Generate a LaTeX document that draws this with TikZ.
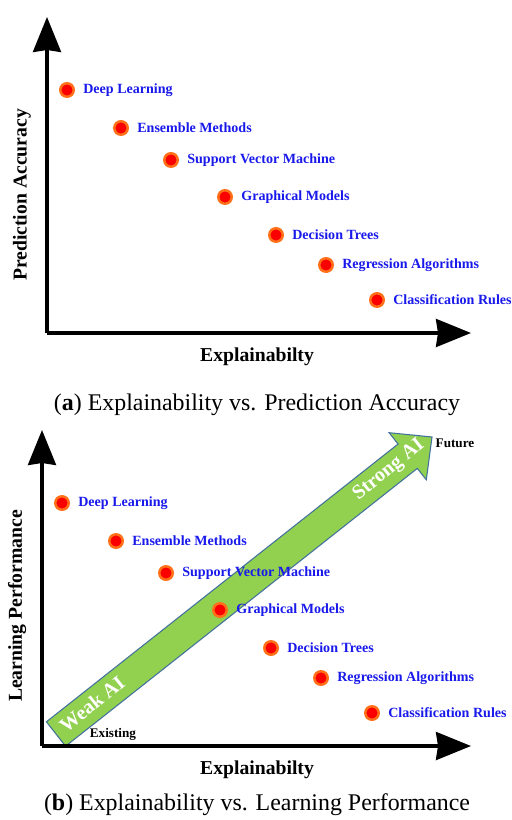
\documentclass[tikz,border=0pt]{standalone}
\usepackage{fontspec}
\setmainfont{Liberation Serif}
\usetikzlibrary{arrows.meta}
\definecolor{methodblue}{RGB}{25,25,235}
\definecolor{dotorange}{RGB}{255,112,24}
\definecolor{dotred}{RGB}{250,0,0}
\definecolor{aigreen}{RGB}{146,208,80}
\definecolor{aiborder}{RGB}{65,113,156}

\begin{document}
\begin{tikzpicture}[x=0.02cm, y=-0.02cm]
	\tikzstyle{arrow}=[draw, line width=1.8pt, -{Stealth[length=0.7cm, width=0.56cm, inset=0.04cm]}]
	\tikzstyle{dot}=[circle, draw=dotorange, line width=1.4pt, fill=dotred, inner sep=0pt, minimum size=0.27cm]
	\tikzstyle{method}=[anchor=west, text=methodblue, font=\bfseries\fontsize{8}{9.6}\selectfont, inner sep=0pt]
	\tikzstyle{axislabel}=[font=\bfseries\fontsize{11.2}{13}\selectfont]
	\tikzstyle{caption}=[font=\fontsize{13.6}{16}\selectfont]
	\tikzstyle{ai}=[text=white, font=\bfseries\fontsize{11.5}{13}\selectfont, rotate=39]
	\newcommand\Xshift{-5}
	\newcommand\Yshift{413}

	\useasboundingbox (0,0) rectangle (511,820);

	% green AI arrow
	\draw [fill=aigreen, draw=aiborder, line width=0.6pt] (46.4,721.8) -- (398.1,444.0) -- (389.1,432.7) -- (432,437) -- (426.3,479.7) -- (417.3,468.4) -- (65.6,746.2) -- cycle;
	\node [ai] at (92,704) (WAI) {Weak AI};
	\node [ai] at (389,470) (SAI) {Strong AI};
	\node [font=\bfseries\fontsize{7.5}{9}\selectfont] at (455,443) (FUT) {Future};
	\node [font=\bfseries\fontsize{7.5}{9}\selectfont] at (113,734) (EXS) {Existing};

\foreach \j in {0,...,1}
{
	\pgfmathsetmacro{\XS}{\j * \Xshift}
	\pgfmathsetmacro{\YS}{\j * \Yshift}
	\coordinate (O\j) at (47+\XS, 333+\YS);
	\coordinate (Y\j) at (47+\XS, 17+\YS);
	\coordinate (X\j) at (471, 333+\YS);
	\path [arrow] (O\j) -- (Y\j);
	\path [arrow] (O\j) -- (X\j);
	\node [axislabel] at (257, 357+\YS) (XL\j) {Explainabilty};

	\foreach \x/\y/\name [count=\i] in {67/90/Deep Learning, 121/128/Ensemble Methods, 171/160/Support Vector Machine, 225/197/Graphical Models, 276/235/Decision Trees, 326/265/Regression Algorithms, 377/300/Classification Rules}
	{
			\node [dot] at (\x+\XS, \y+\YS) (D\j\i) {};
			\node [method] at ([xshift=0.16cm]D\j\i.east) (M\j\i) {\name};
	}
}

	\node [axislabel, rotate=90] at (22, 195) (YL0) {Prediction Accuracy};
	\node [axislabel, rotate=90] at (17, 606) (YL1) {Learning Performance};
	\node [caption] at (257, 405) (C0) {(\textbf{a}) Explainability vs. Prediction Accuracy};
	\node [caption] at (257, 805) (C1) {(\textbf{b}) Explainability vs. Learning Performance};

\end{tikzpicture}
\end{document}
